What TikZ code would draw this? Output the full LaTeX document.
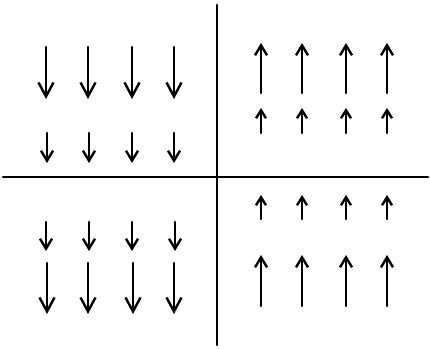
\documentclass[tikz,border=0pt]{standalone}
\usetikzlibrary{arrows.meta}
\tikzset{
  axis/.style={line width=2.6pt, line cap=round, black},
  spin/.style={line width=2.4pt, line cap=round, line join=round, black},
  bigdown/.style={spin, -{Straight Barb[length=14pt,width=15pt]}},
  smalldown/.style={spin, -{Straight Barb[length=10pt,width=12pt]}},
  bigup/.style={spin, -{Straight Barb[length=10pt,width=12pt]}},
  smallup/.style={spin, -{Straight Barb[length=8pt,width=10pt]}},
}
\begin{document}
\begin{tikzpicture}[x=1pt,y=-1pt]
\useasboundingbox (0,0) rectangle (430,348);
% axes
\coordinate (vt) at (217,5);
\coordinate (vb) at (217,345);
\coordinate (hl) at (3,177);
\coordinate (hr) at (428,177);
\draw[axis] (vt) -- (vb);
\draw[axis] (hl) -- (hr);
% top-left: long down arrows
\foreach \i/\x in {1/46,2/88,3/132,4/174}{
  \coordinate (tla\i) at (\x,47);
  \coordinate (tlb\i) at (\x,99);
  \draw[bigdown] (tla\i) -- (tlb\i);
}
% top-left: short down arrows
\foreach \i/\x in {1/47,2/89,3/132,4/174}{
  \coordinate (tsa\i) at (\x,133);
  \coordinate (tsb\i) at (\x,163);
  \draw[smalldown] (tsa\i) -- (tsb\i);
}
% top-right: long up arrows
\foreach \i/\x in {1/261,2/302,3/346,4/387}{
  \coordinate (tra\i) at (\x,93);
  \coordinate (trb\i) at (\x,43);
  \draw[bigup] (tra\i) -- (trb\i);
}
% top-right: short up arrows
\foreach \i/\x in {1/261,2/302,3/346,4/387}{
  \coordinate (rsa\i) at (\x,133);
  \coordinate (rsb\i) at (\x,108);
  \draw[smallup] (rsa\i) -- (rsb\i);
}
% bottom-left: short down arrows
\foreach \i/\x in {1/46,2/89,3/132,4/175}{
  \coordinate (bsa\i) at (\x,222);
  \coordinate (bsb\i) at (\x,251);
  \draw[smalldown] (bsa\i) -- (bsb\i);
}
% bottom-left: long down arrows
\foreach \i/\x in {1/47,2/88,3/133,4/174}{
  \coordinate (bla\i) at (\x,263);
  \coordinate (blb\i) at (\x,314);
  \draw[bigdown] (bla\i) -- (blb\i);
}
% bottom-right: short up arrows
\foreach \i/\x in {1/261,2/302,3/346,4/387}{
  \coordinate (bra\i) at (\x,219);
  \coordinate (brb\i) at (\x,195);
  \draw[smallup] (bra\i) -- (brb\i);
}
% bottom-right: long up arrows
\foreach \i/\x in {1/261,2/302,3/346,4/387}{
  \coordinate (brla\i) at (\x,306);
  \coordinate (brlb\i) at (\x,255);
  \draw[bigup] (brla\i) -- (brlb\i);
}
\end{tikzpicture}
\end{document}
